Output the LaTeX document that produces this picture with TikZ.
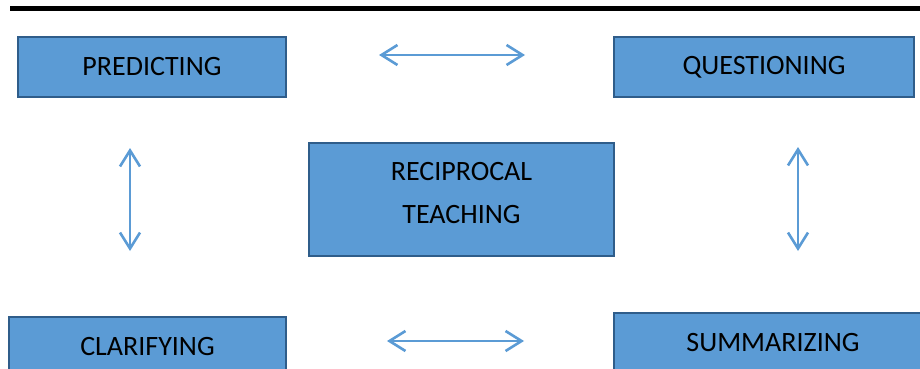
\documentclass[tikz,border=0pt]{standalone}
\usepackage{fontspec}
\setmainfont{Carlito}
\usetikzlibrary{arrows.meta}
\definecolor{boxblue}{HTML}{5B9BD5}
\definecolor{boxedge}{HTML}{2F5D8A}

\begin{document}
\begin{tikzpicture}[x=1pt,y=-1pt,
    stage/.style={draw=boxedge,line width=2pt,fill=boxblue,inner sep=0pt,
        font=\fontsize{28}{43}\selectfont,align=center},
    link/.style={draw=boxblue,line width=2.6pt,
        {Straight Barb[length=16pt,width=20pt]}-{Straight Barb[length=16pt,width=20pt]}}]
            \clip (0,0) rectangle (920,369);
            \draw[line width=4.5pt] (10,8.5)--(920,8.5);
            \node[stage,minimum width=268,minimum height=60] (pred) at (152,67) {PREDICTING};
            \node[stage,minimum width=300,minimum height=60] (ques) at (764,67) {QUESTIONING};
            \node[stage,minimum width=305,minimum height=113,text depth=14pt] (recip) at (461.5,199.5) {RECIPROCAL\\TEACHING};
            \node[stage,minimum width=277,minimum height=60] (clar) at (147.5,347) {CLARIFYING};
            \node[stage,minimum width=318,minimum height=60] (summ) at (773,343) {SUMMARIZING};
            \coordinate (pq) at ([yshift=12pt]pred.east);
            \coordinate (pc) at ([xshift=-22pt]pred.south);
            \coordinate (qs) at ([xshift=34pt]ques.south);
            \coordinate (cs) at ([yshift=6pt]clar.east);
            \draw[link,shorten <=92pt,shorten >=88pt] (pq)--(pq -| ques.west);
            \draw[link,shorten <=50pt,shorten >=65pt] (pc)--(pc |- clar.north);
            \draw[link,shorten <=49pt,shorten >=61pt] (qs)--(qs |- summ.north);
            \draw[link,shorten <=100pt,shorten >=89pt] (cs)--(cs -| summ.west);
\end{tikzpicture}
\end{document}
